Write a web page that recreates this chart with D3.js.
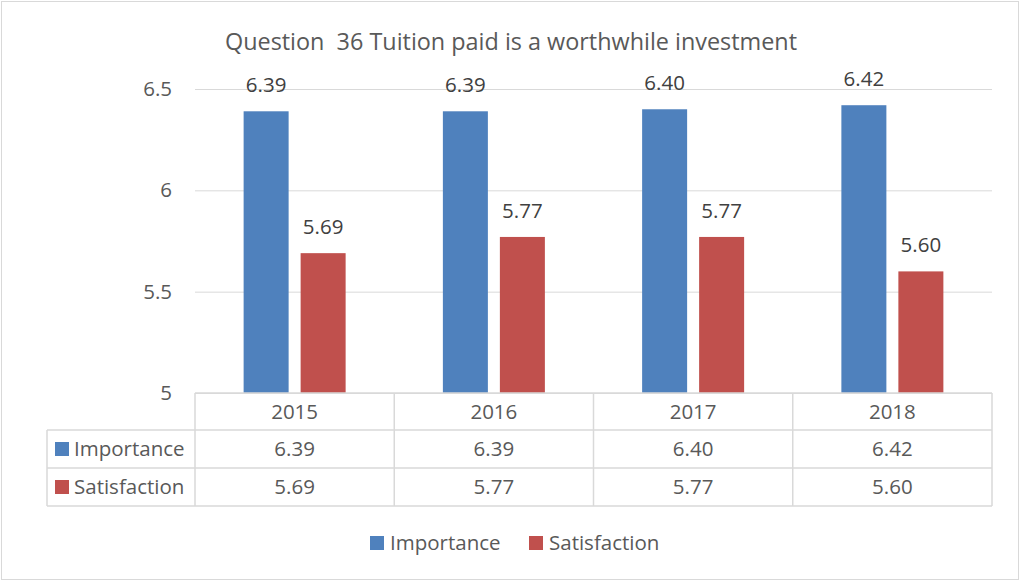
<!DOCTYPE html>
<html>
<head>
<meta charset="utf-8">
<script src="https://cdn.jsdelivr.net/npm/d3@7"></script>
<style>
  body { margin: 0; background: #fff; }
  svg { display: block; font-family: "Open Sans", Lato, sans-serif; }
</style>
</head>
<body>
<svg width="1021" height="582"></svg>
<script>
const years = ["2015", "2016", "2017", "2018"];
const seriesNames = ["Importance", "Satisfaction"];
const importance = [6.39, 6.39, 6.40, 6.42];
const satisfaction = [5.69, 5.77, 5.77, 5.60];
const yTicks = [5, 5.5, 6, 6.5];
const colors = ["#4F81BD", "#C0504D"];

const values = [importance, satisfaction];
const svg = d3.select("svg");
const fs = 20.5;

svg.append("rect")
    .attr("x", 1.5).attr("y", 1.5).attr("width", 1017).attr("height", 578)
    .attr("fill", "#fff").attr("stroke", "#d9d9d9");

svg.append("text")
    .attr("x", 511).attr("y", 50)
    .attr("text-anchor", "middle")
    .attr("fill", "#595959")
    .attr("font-size", 23.4)
    .style("white-space", "pre")
    .text("Question  36 Tuition paid is a worthwhile investment");

const plotLeft = 195, plotRight = 992, plotTop = 89, plotBottom = 393;
const x = d3.scaleBand().domain(years).range([plotLeft, plotRight]);
const x1 = d3.scaleBand().domain(seriesNames)
    .range([x.bandwidth() / 2 - 51, x.bandwidth() / 2 + 51]).paddingInner(12 / 57);
const y = d3.scaleLinear().domain([5, 6.5]).range([plotBottom, plotTop]);

// gridlines
const grid = svg.append("g").attr("transform", `translate(${plotLeft},0)`)
    .call(d3.axisLeft(y).tickValues(yTicks).tickSize(-(plotRight - plotLeft)).tickFormat(""));
grid.select(".domain").remove();
grid.selectAll("line").attr("stroke", "#d9d9d9").attr("stroke-width", 1);

// y labels
const yAx = svg.append("g").attr("transform", `translate(172,0)`)
    .call(d3.axisLeft(y).tickValues(yTicks).tickSize(0).tickPadding(0).tickFormat(d3.format("")));
yAx.select(".domain").remove();
yAx.attr("font-family", null).attr("font-size", null);
yAx.selectAll("text").attr("fill", "#595959").attr("font-size", fs);

// bars
const groups = svg.append("g").selectAll("g").data(years).join("g")
    .attr("transform", d => `translate(${x(d)},0)`);

groups.selectAll("rect")
    .data((d, i) => seriesNames.map((s, k) => ({ s, k, v: values[k][i] })))
    .join("rect")
    .attr("x", d => x1(d.s))
    .attr("width", x1.bandwidth())
    .attr("y", d => y(d.v))
    .attr("height", d => plotBottom - y(d.v))
    .attr("fill", d => colors[d.k]);

groups.selectAll("text.lbl")
    .data((d, i) => seriesNames.map((s, k) => ({ s, k, v: values[k][i] })))
    .join("text")
    .attr("class", "lbl")
    .attr("x", d => x1(d.s) + x1.bandwidth() / 2)
    .attr("y", d => y(d.v) - 19)
    .attr("text-anchor", "middle")
    .attr("fill", "#404040")
    .attr("font-size", fs)
    .text(d => d.v.toFixed(2));

// data table
const rowTop = [393, 430, 468];
const rowBottom = 506;
const tableLeft = 47;
const tbl = svg.append("g").attr("stroke", "#d9d9d9").attr("stroke-width", 1.5).attr("fill", "none");
tbl.append("line").attr("x1", plotLeft).attr("x2", plotRight).attr("y1", rowTop[0]).attr("y2", rowTop[0]);
[rowTop[1], rowTop[2], rowBottom].forEach(yy =>
    tbl.append("line").attr("x1", tableLeft).attr("x2", plotRight).attr("y1", yy).attr("y2", yy));
tbl.append("line").attr("x1", tableLeft).attr("x2", tableLeft).attr("y1", rowTop[1]).attr("y2", rowBottom);
years.concat([null]).forEach(yr => {
    const xx = yr ? x(yr) : plotRight;
    tbl.append("line").attr("x1", xx).attr("x2", xx).attr("y1", rowTop[0]).attr("y2", rowBottom);
});

const cellMid = [(rowTop[0] + rowTop[1]) / 2, (rowTop[1] + rowTop[2]) / 2, (rowTop[2] + rowBottom) / 2];
svg.append("g").selectAll("text").data(years).join("text")
    .attr("x", d => x(d) + x.bandwidth() / 2)
    .attr("y", cellMid[0])
    .attr("dy", "0.35em")
    .attr("text-anchor", "middle")
    .attr("fill", "#595959")
    .attr("font-size", fs)
    .text(d => d);

seriesNames.forEach((s, k) => {
    const row = svg.append("g");
    row.append("rect").attr("x", 55).attr("y", cellMid[k + 1] - 7).attr("width", 14).attr("height", 14).attr("fill", colors[k]);
    row.append("text").attr("x", 74).attr("y", cellMid[k + 1]).attr("dy", "0.35em")
        .attr("fill", "#595959").attr("font-size", fs).text(s);
    row.selectAll("text.v").data(years).join("text")
        .attr("class", "v")
        .attr("x", d => x(d) + x.bandwidth() / 2)
        .attr("y", cellMid[k + 1])
        .attr("dy", "0.35em")
        .attr("text-anchor", "middle")
        .attr("fill", "#595959")
        .attr("font-size", fs)
        .text((d, i) => values[k][i].toFixed(2));
});

// legend
const legendItems = [{ s: "Importance", x: 370 }, { s: "Satisfaction", x: 529 }];
const lg = svg.append("g").selectAll("g").data(legendItems).join("g")
    .attr("transform", d => `translate(${d.x},543)`);
lg.append("rect").attr("x", 0).attr("y", -7).attr("width", 14).attr("height", 14)
    .attr("fill", (d, i) => colors[i]);
lg.append("text").attr("x", 20).attr("dy", "0.35em")
    .attr("fill", "#595959").attr("font-size", fs).text(d => d.s);
</script>
</body>
</html>
